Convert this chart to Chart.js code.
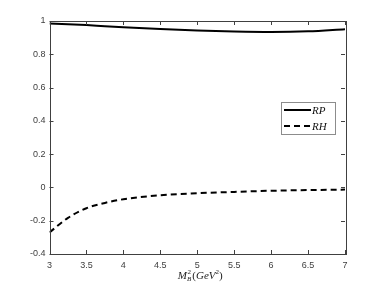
<!DOCTYPE html>
<html>
<head>
<meta charset="utf-8">
<script src="https://cdn.jsdelivr.net/npm/chart.js@4"></script>
<style>
  html, body { margin: 0; padding: 0; background: #fff; }
  #wrap { width: 382px; height: 286px; }
</style>
</head>
<body>
<div id="wrap"><canvas id="chart" width="382" height="286"></canvas></div>
<script>
// values
const massSq = [3, 3.25, 3.5, 3.75, 4, 4.5, 5, 5.5, 6, 6.5, 7];
const rpValues = [0.985, 0.981, 0.976, 0.969, 0.963, 0.952, 0.943, 0.937, 0.934, 0.938, 0.951];
const rhValues = [-0.27, -0.183, -0.125, -0.093, -0.071, -0.047, -0.035, -0.027, -0.020, -0.016, -0.013];
const seriesLabels = ["RP", "RH"];
const xTicks = [3, 3.5, 4, 4.5, 5, 5.5, 6, 6.5, 7];
const yTicks = [-0.4, -0.2, 0, 0.2, 0.4, 0.6, 0.8, 1];

const ctx = document.getElementById("chart");
const axisColor = "#404040";

function toPoints(ys) {
  return massSq.map((x, i) => ({ x: x, y: ys[i] }));
}

// box round the plot with inward ticks, like matlab
const boxPlugin = {
  id: "box",
  afterDraw(chart) {
    const c = chart.ctx;
    const a = chart.chartArea;
    const xs = chart.scales.x;
    const ys = chart.scales.y;
    c.save();
    c.strokeStyle = axisColor;
    c.lineWidth = 1;
    c.strokeRect(Math.round(a.left) + 0.5, Math.round(a.top) + 0.5,
      Math.round(a.right - a.left), Math.round(a.bottom - a.top));
    c.beginPath();
    xTicks.forEach((t) => {
      const px = Math.round(xs.getPixelForValue(t)) + 0.5;
      c.moveTo(px, a.bottom); c.lineTo(px, a.bottom - 4);
      c.moveTo(px, a.top); c.lineTo(px, a.top + 4);
    });
    yTicks.forEach((t) => {
      const py = Math.round(ys.getPixelForValue(t)) + 0.5;
      c.moveTo(a.left, py); c.lineTo(a.left + 4, py);
      c.moveTo(a.right, py); c.lineTo(a.right - 4, py);
    });
    c.stroke();

    // x axis title M_B^2(GeV^2)
    const cx = (a.left + a.right) / 2;
    const base = 279;
    c.fillStyle = "#222";
    c.textBaseline = "alphabetic";
    c.font = "italic 11px 'Liberation Serif', serif";
    const wM = c.measureText("M").width;
    c.font = "italic 7px 'Liberation Serif', serif";
    const wSub = c.measureText("B").width;
    c.font = "11px 'Liberation Serif', serif";
    const wOpen = c.measureText("(").width;
    c.font = "italic 11px 'Liberation Serif', serif";
    const wGeV = c.measureText("GeV").width;
    c.font = "7px 'Liberation Serif', serif";
    const wSup = c.measureText("2").width;
    c.font = "11px 'Liberation Serif', serif";
    const wClose = c.measureText(")").width;
    const total = wM + wSub + 1 + wOpen + wGeV + wSup + wClose;
    let x = cx - total / 2 + 3;
    c.textAlign = "left";
    c.font = "italic 11px 'Liberation Serif', serif";
    c.fillText("M", x, base); x += wM;
    c.font = "7px 'Liberation Serif', serif";
    c.fillText("2", x + 0.5, base - 5);
    c.font = "italic 7px 'Liberation Serif', serif";
    c.fillText("B", x, base + 2); x += wSub + 1;
    c.font = "11px 'Liberation Serif', serif";
    c.fillText("(", x, base); x += wOpen;
    c.font = "italic 11px 'Liberation Serif', serif";
    c.fillText("GeV", x, base); x += wGeV;
    c.font = "7px 'Liberation Serif', serif";
    c.fillText("2", x, base - 5); x += wSup;
    c.font = "11px 'Liberation Serif', serif";
    c.fillText(")", x, base);

    // legend
    const lx = 281.5, ly = 102.5, lw = 54, lh = 32;
    c.fillStyle = "#fff";
    c.fillRect(lx, ly, lw, lh);
    c.strokeStyle = "#8c8c8c";
    c.lineWidth = 1;
    c.strokeRect(lx, ly, lw, lh);
    chart.data.datasets.forEach((ds, i) => {
      const y = 110 + i * 16;
      c.beginPath();
      c.strokeStyle = "#000";
      c.lineWidth = 2;
      c.setLineDash(ds.borderDash || []);
      c.moveTo(284, y);
      c.lineTo(311, y);
      c.stroke();
      c.setLineDash([]);
      c.fillStyle = "#111";
      c.font = "italic 11px 'Liberation Serif', serif";
      c.textBaseline = "middle";
      c.fillText(ds.label, 312, y + 1);
    });
    c.restore();
  },
};

const chart = new Chart(ctx, {
  type: "line",
  data: {
    datasets: [
      {
        label: seriesLabels[0],
        data: toPoints(rpValues),
        borderColor: "#000",
        borderWidth: 2,
        pointRadius: 0,
        cubicInterpolationMode: "monotone",
        fill: false,
      },
      {
        label: seriesLabels[1],
        data: toPoints(rhValues),
        borderColor: "#000",
        borderWidth: 2,
        borderDash: [6, 4],
        pointRadius: 0,
        cubicInterpolationMode: "monotone",
        fill: false,
      },
    ],
  },
  options: {
    responsive: false,
    animation: false,
    layout: { padding: { left: 0, top: 21, right: 37, bottom: 0 } },
    plugins: {
      legend: { display: false },
      tooltip: { enabled: false },
    },
    scales: {
      x: {
        type: "linear",
        min: 3,
        max: 7,
        afterBuildTicks: (scale) => {
          scale.ticks = xTicks.map((v) => ({ value: v }));
        },
        afterFit: (scale) => { scale.height = 32; },
        grid: { display: false, drawTicks: false },
        border: { display: false },
        ticks: {
          padding: 6,
          color: axisColor,
          font: { family: "'Liberation Sans', Arial", size: 9 },
          maxRotation: 0,
          callback: (v) => String(Math.round(v * 10) / 10),
        },
      },
      y: {
        type: "linear",
        min: -0.4,
        max: 1,
        afterBuildTicks: (scale) => {
          scale.ticks = yTicks.map((v) => ({ value: v }));
        },
        afterFit: (scale) => { scale.width = 49.5; },
        grid: { display: false, drawTicks: false },
        border: { display: false },
        ticks: {
          padding: 4,
          color: axisColor,
          font: { family: "'Liberation Sans', Arial", size: 9 },
          callback: (v) => String(Math.round(v * 10) / 10),
        },
      },
    },
  },
  plugins: [boxPlugin],
});
</script>
</body>
</html>
